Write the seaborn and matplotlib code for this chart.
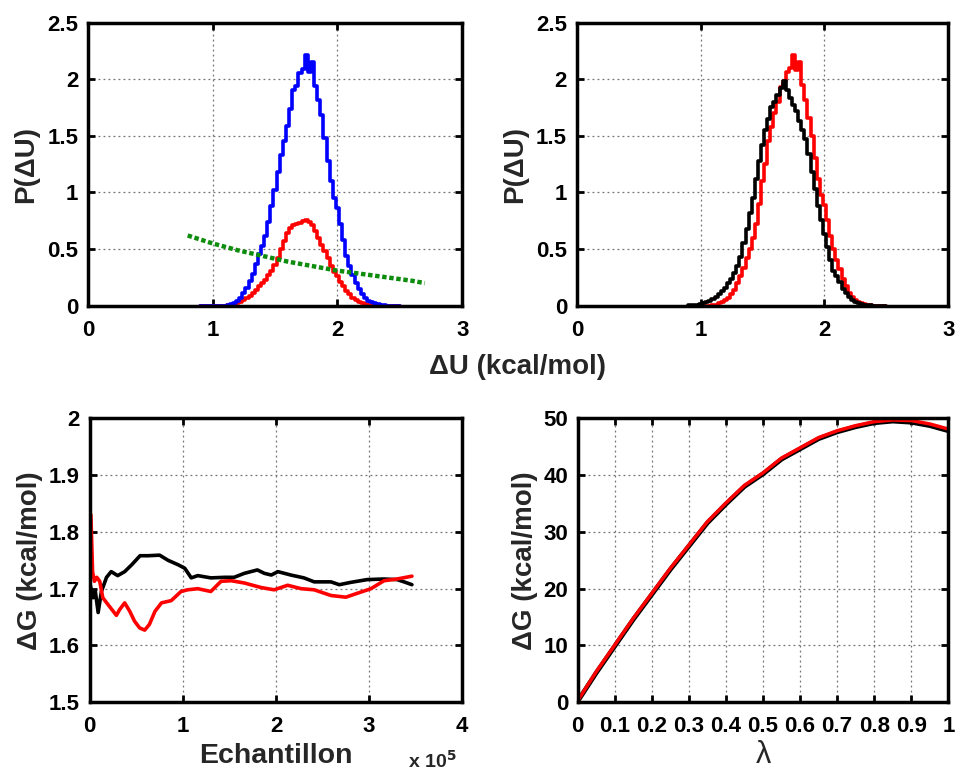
import numpy as np
import pandas as pd
import matplotlib
matplotlib.use("Agg")
import matplotlib.pyplot as plt
import seaborn as sns
from matplotlib.ticker import FuncFormatter, FixedLocator

# ---------------- DATA ----------------
# histogram bin centres (kcal/mol)
du_centers = [0.900, 0.925, 0.950, 0.975, 1.000, 1.025, 1.050, 1.075, 1.100, 1.125,
              1.150, 1.175, 1.200, 1.225, 1.250, 1.275, 1.300, 1.325, 1.350, 1.375,
              1.400, 1.425, 1.450, 1.475, 1.500, 1.525, 1.550, 1.575, 1.600, 1.625,
              1.650, 1.675, 1.700, 1.725, 1.750, 1.775, 1.800, 1.825, 1.850, 1.875,
              1.900, 1.925, 1.950, 1.975, 2.000, 2.025, 2.050, 2.075, 2.100, 2.125,
              2.150, 2.175, 2.200, 2.225, 2.250, 2.275, 2.300, 2.325, 2.350, 2.375,
              2.400, 2.425, 2.450, 2.475, 2.500]

p_blue_tl = [0, 0, 0, 0, 0, 0, 0, 0, 0.002, 0.008,
             0.015, 0.025, 0.04, 0.07, 0.11, 0.16, 0.22, 0.28, 0.37, 0.46,
             0.53, 0.62, 0.74, 0.88, 1.02, 1.18, 1.33, 1.45, 1.59, 1.74,
             1.90, 1.94, 2.05, 2.09, 2.21, 2.06, 2.15, 1.94, 1.82, 1.68,
             1.48, 1.28, 1.10, 0.95, 0.86, 0.72, 0.58, 0.44, 0.35, 0.27,
             0.20, 0.15, 0.10, 0.07, 0.045, 0.03, 0.02, 0.012, 0.007, 0.004,
             0.002, 0.001, 0, 0, 0]

p_red_tl = [0, 0, 0, 0, 0, 0, 0, 0, 0.002, 0.005,
            0.01, 0.015, 0.022, 0.035, 0.05, 0.07, 0.09, 0.11, 0.14, 0.17,
            0.20, 0.23, 0.27, 0.31, 0.36, 0.42, 0.50, 0.57, 0.64, 0.69,
            0.71, 0.72, 0.73, 0.75, 0.76, 0.74, 0.71, 0.66, 0.60, 0.54,
            0.48, 0.42, 0.35, 0.30, 0.26, 0.21, 0.17, 0.13, 0.10, 0.07,
            0.05, 0.035, 0.025, 0.015, 0.01, 0.006, 0.003, 0.001, 0, 0,
            0, 0, 0, 0, 0]

# green dotted reference curve (top-left)
green_x = [0.8, 1.0, 1.2, 1.4, 1.6, 1.8, 2.0, 2.2, 2.4, 2.6, 2.7]
green_y = [0.62, 0.55, 0.49, 0.44, 0.39, 0.35, 0.31, 0.28, 0.25, 0.22, 0.20]

p_red_tr = [0, 0, 0, 0, 0, 0, 0, 0, 0.003, 0.01,
            0.02, 0.035, 0.05, 0.07, 0.10, 0.14, 0.20, 0.26, 0.33, 0.42,
            0.50, 0.60, 0.72, 0.90, 1.10, 1.25, 1.45, 1.58, 1.70, 1.80,
            1.93, 1.98, 2.06, 2.10, 2.21, 2.08, 2.15, 1.95, 1.82, 1.66,
            1.50, 1.30, 1.12, 0.98, 0.89, 0.76, 0.62, 0.50, 0.40, 0.32,
            0.24, 0.17, 0.11, 0.08, 0.05, 0.035, 0.02, 0.012, 0.007, 0.004,
            0.002, 0.001, 0, 0, 0]

p_black_tr = [0.003, 0.004, 0.006, 0.01, 0.015, 0.022, 0.03, 0.045, 0.06, 0.08,
              0.10, 0.13, 0.16, 0.20, 0.24, 0.29, 0.35, 0.43, 0.55, 0.68,
              0.82, 0.95, 1.12, 1.28, 1.42, 1.55, 1.65, 1.75, 1.80, 1.86,
              1.92, 1.98, 1.90, 1.83, 1.77, 1.72, 1.63, 1.55, 1.47, 1.34,
              1.18, 1.03, 0.88, 0.76, 0.63, 0.52, 0.40, 0.31, 0.26, 0.21,
              0.15, 0.11, 0.08, 0.05, 0.03, 0.02, 0.012, 0.008, 0.005, 0.003,
              0.002, 0.001, 0.001, 0, 0]

# convergence of dG with number of samples (x in units of 1e5)
conv_black_x = [0.0, 0.036, 0.06, 0.09, 0.125, 0.18, 0.23, 0.30, 0.375, 0.45,
                0.54, 0.625, 0.75, 0.84, 0.95, 1.02, 1.09, 1.16, 1.30, 1.45,
                1.55, 1.66, 1.80, 1.875, 1.95, 2.02, 2.16, 2.30, 2.41, 2.59,
                2.68, 2.80, 2.98, 3.16, 3.30, 3.375, 3.46]
conv_black_y = [1.71, 1.684, 1.695, 1.658, 1.695, 1.72, 1.73, 1.723, 1.73, 1.742,
                1.758, 1.758, 1.759, 1.75, 1.742, 1.736, 1.719, 1.723, 1.719, 1.72,
                1.72, 1.727, 1.733, 1.727, 1.724, 1.73, 1.724, 1.719, 1.712, 1.712,
                1.707, 1.711, 1.716, 1.717, 1.716, 1.712, 1.707]
conv_red_x = [0.012, 0.03, 0.05, 0.075, 0.107, 0.14, 0.196, 0.286, 0.32, 0.375,
              0.43, 0.48, 0.535, 0.59, 0.64, 0.70, 0.77, 0.875, 0.98, 1.05,
              1.16, 1.30, 1.41, 1.52, 1.66, 1.84, 1.98, 2.125, 2.27, 2.41,
              2.59, 2.75, 2.875, 3.02, 3.16, 3.30, 3.46]
conv_red_y = [1.83, 1.73, 1.713, 1.72, 1.713, 1.684, 1.672, 1.653, 1.663, 1.675,
              1.66, 1.643, 1.631, 1.627, 1.637, 1.66, 1.675, 1.679, 1.695, 1.698,
              1.70, 1.695, 1.713, 1.714, 1.71, 1.702, 1.698, 1.706, 1.70, 1.698,
              1.688, 1.685, 1.692, 1.70, 1.714, 1.717, 1.722]

# dG(lambda)
lam = [0.0, 0.05, 0.1, 0.15, 0.2, 0.25, 0.3, 0.35, 0.4, 0.45,
       0.5, 0.55, 0.6, 0.65, 0.7, 0.75, 0.8, 0.85, 0.9, 0.95, 1.0]
dg_black = [0.2, 5.2, 9.9, 14.6, 19.0, 23.4, 27.5, 31.6, 34.9, 38.0,
            40.2, 42.8, 44.6, 46.4, 47.6, 48.5, 49.2, 49.5, 49.3, 48.7, 47.8]
dg_red = [0.3, 5.4, 10.1, 14.8, 19.2, 23.6, 27.7, 31.8, 35.1, 38.2,
          40.4, 43.0, 44.8, 46.6, 47.8, 48.7, 49.4, 49.7, 49.6, 49.0, 48.1]

# ---------------- STYLE ----------------
sns.set_theme(style="white")
plt.rcParams['font.family'] = ['Liberation Sans', 'DejaVu Sans']
plt.rcParams['font.weight'] = 'bold'
plt.rcParams['axes.labelweight'] = 'bold'
plt.rcParams['mathtext.default'] = 'bf'

TICK_FS = 16
LAB_FS = 20
LW = 2.6


def fmt(v, pos=None):
    s = ("%.2f" % v).rstrip('0').rstrip('.')
    return "0" if s in ("-0", "") else s


def style(ax, xlim, ylim, xticks, yticks):
    ax.set_xlim(*xlim)
    ax.set_ylim(*ylim)
    ax.xaxis.set_major_locator(FixedLocator(xticks))
    ax.yaxis.set_major_locator(FixedLocator(yticks))
    ax.xaxis.set_major_formatter(FuncFormatter(fmt))
    ax.yaxis.set_major_formatter(FuncFormatter(fmt))
    ax.grid(True, color='0.45', linestyle=(0, (1.5, 2.5)), linewidth=0.9)
    for sp in ax.spines.values():
        sp.set_linewidth(2.5)
        sp.set_color('black')
        sp.set_visible(True)
    ax.tick_params(direction='in', length=5, width=2, top=True, right=True,
                   bottom=True, left=True, labelsize=TICK_FS, colors='black')
    ax.tick_params(axis='x', pad=10)
    ax.tick_params(axis='y', pad=7)
    for lab in ax.get_xticklabels() + ax.get_yticklabels():
        lab.set_fontweight('bold')
    ax.set_xlabel('')
    ax.set_ylabel('')
    if ax.get_legend() is not None:
        ax.get_legend().remove()


fig = plt.figure(figsize=(9.55, 7.76), dpi=100)
fig.patch.set_facecolor('white')

ax1 = fig.add_axes([0.092, 0.606, 0.392, 0.365])
ax2 = fig.add_axes([0.604, 0.606, 0.389, 0.365])
ax3 = fig.add_axes([0.094, 0.095, 0.390, 0.366])
ax4 = fig.add_axes([0.605, 0.095, 0.388, 0.366])

# top-left
sns.lineplot(x=du_centers, y=p_red_tl, ax=ax1, color=(1, 0, 0), lw=LW,
             drawstyle='steps-mid')
sns.lineplot(x=du_centers, y=p_blue_tl, ax=ax1, color=(0, 0, 1), lw=LW,
             drawstyle='steps-mid')
sns.lineplot(x=green_x, y=green_y, ax=ax1, color=(0.05, 0.55, 0.05), lw=3.2,
             linestyle=(0, (1, 0.6)))
style(ax1, (0, 3), (0, 2.5), [0, 1, 2, 3], [0, 0.5, 1, 1.5, 2, 2.5])
ax1.set_ylabel('P(\u0394U)', fontsize=LAB_FS, fontweight='bold', labelpad=6)

# top-right
sns.lineplot(x=du_centers, y=p_red_tr, ax=ax2, color=(1, 0, 0), lw=LW,
             drawstyle='steps-mid')
sns.lineplot(x=du_centers, y=p_black_tr, ax=ax2, color='black', lw=LW,
             drawstyle='steps-mid')
style(ax2, (0, 3), (0, 2.5), [0, 1, 2, 3], [0, 0.5, 1, 1.5, 2, 2.5])
ax2.set_ylabel('P(\u0394U)', fontsize=LAB_FS, fontweight='bold', labelpad=6)

fig.text(0.542, 0.527, '\u0394U (kcal/mol)', fontsize=LAB_FS, fontweight='bold',
         ha='center', va='center')

# bottom-left
sns.lineplot(x=conv_black_x, y=conv_black_y, ax=ax3, color='black', lw=LW)
sns.lineplot(x=conv_red_x, y=conv_red_y, ax=ax3, color=(1, 0, 0), lw=LW)
style(ax3, (0, 4), (1.5, 2.0), [0, 1, 2, 3, 4], [1.5, 1.6, 1.7, 1.8, 1.9, 2.0])
ax3.set_ylabel('\u0394G (kcal/mol)', fontsize=LAB_FS, fontweight='bold', labelpad=4)
ax3.set_xlabel('Echantillon', fontsize=LAB_FS + 0.5, fontweight='bold', labelpad=4)
fig.text(0.427, 0.006, 'x 10$^{5}$', fontsize=14, fontweight='bold',
         ha='left', va='bottom')

# bottom-right
sns.lineplot(x=lam, y=dg_black, ax=ax4, color='black', lw=3.4)
sns.lineplot(x=lam, y=dg_red, ax=ax4, color=(1, 0, 0), lw=2.5)
style(ax4, (0, 1), (0, 50), [0, 0.1, 0.2, 0.3, 0.4, 0.5, 0.6, 0.7, 0.8, 0.9, 1.0],
      [0, 10, 20, 30, 40, 50])
ax4.set_ylabel('\u0394G (kcal/mol)', fontsize=LAB_FS, fontweight='bold', labelpad=4)
ax4.set_xlabel('\u03bb', fontsize=LAB_FS + 2, fontweight='normal', labelpad=2)

fig.savefig('out.png', dpi=100, facecolor='white')
